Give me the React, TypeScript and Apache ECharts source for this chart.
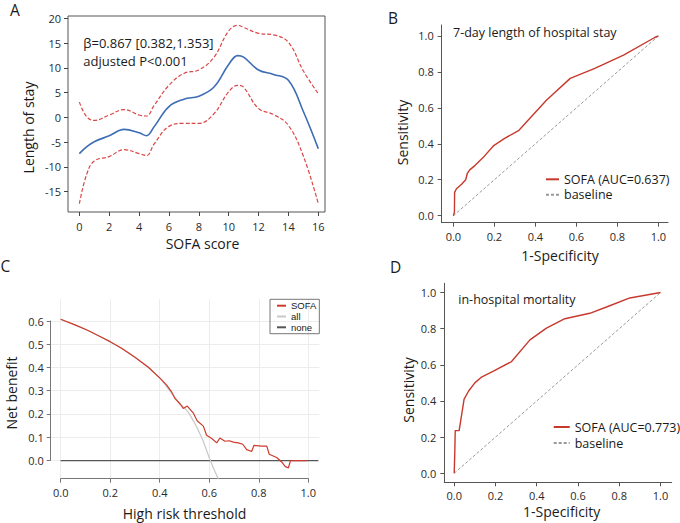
import React, { useEffect, useRef } from "react";
import * as echarts from "echarts";

const FONT = "'Open Sans', 'Noto Sans', sans-serif";
const SMALL_FONT = "'Liberation Sans', Arial, sans-serif";

// Panel A: restricted cubic spline of length of stay vs SOFA score
const sofaScore = [0, 0.5, 1, 2, 3, 4, 4.5, 5, 6, 7, 8, 9, 10, 10.6, 11, 12, 13, 14, 15, 16];
const losFit = [-7.3, -5.9, -4.9, -3.7, -2.4, -3.1, -3.7, -1.9, 2.2, 3.7, 4.3, 6.1, 10.7, 12.5, 12.2, 9.6, 8.7, 7.5, 1.2, -6.3];
const losUpper = [3.1, 0.1, -0.6, 0.5, 1.6, 0.5, 0.3, 2.4, 6.5, 8.9, 9.6, 12.1, 17.5, 18.6, 18.2, 17.0, 16.7, 15.2, 9.4, 4.8];
const losLower = [-17.4, -11.4, -8.8, -7.9, -6.5, -7.3, -7.7, -5.4, -1.8, -1.2, -1.2, 0.7, 5.2, 6.5, 6.1, 1.8, 0.6, -1.6, -7.8, -17.4];
const aXTicks = [0, 2, 4, 6, 8, 10, 12, 14, 16];
const aYTicks = [-15, -10, -5, 0, 5, 10, 15, 20];

// Panel B: ROC, 7-day length of hospital stay
const stayFpr = [0, 0.005, 0.006, 0.015, 0.04, 0.06, 0.068, 0.08, 0.106, 0.15, 0.195, 0.25, 0.32, 0.38, 0.455, 0.57, 0.69, 0.83, 0.98, 1];
const stayTpr = [0, 0.02, 0.13, 0.15, 0.175, 0.2, 0.235, 0.255, 0.28, 0.33, 0.388, 0.43, 0.475, 0.55, 0.644, 0.764, 0.82, 0.893, 0.99, 1];

// Panel D: ROC, in-hospital mortality
const mortFpr = [0, 0.003, 0.005, 0.024, 0.03, 0.048, 0.07, 0.1, 0.13, 0.19, 0.278, 0.367, 0.447, 0.536, 0.657, 0.738, 0.851, 1];
const mortTpr = [0, 0.12, 0.236, 0.236, 0.28, 0.41, 0.455, 0.5, 0.53, 0.565, 0.618, 0.738, 0.803, 0.855, 0.885, 0.92, 0.97, 1];

const baselineX = [0, 1];
const baselineY = [0, 1];
const rocTicks = [0, 0.2, 0.4, 0.6, 0.8, 1.0];

// Panel C: decision curve
const dcaSofaX = [0, 0.058, 0.111, 0.165, 0.2, 0.246, 0.3, 0.354, 0.405, 0.428, 0.448, 0.462, 0.482, 0.495, 0.511, 0.535, 0.551, 0.576, 0.589, 0.61, 0.63, 0.643, 0.663, 0.681, 0.697, 0.717, 0.735, 0.751, 0.771, 0.78, 0.811, 0.832, 0.842, 0.872, 0.892, 0.906, 0.919, 0.928, 0.993];
const dcaSofaY = [0.607, 0.583, 0.559, 0.53, 0.511, 0.483, 0.444, 0.401, 0.35, 0.324, 0.295, 0.266, 0.243, 0.224, 0.234, 0.205, 0.171, 0.148, 0.109, 0.095, 0.076, 0.097, 0.083, 0.085, 0.079, 0.076, 0.07, 0.047, 0.039, 0.065, 0.062, 0.062, 0.027, 0.013, -0.006, -0.025, -0.032, 0, 0];
const dcaAllX = [0, 0.058, 0.111, 0.165, 0.2, 0.246, 0.3, 0.354, 0.405, 0.428, 0.448, 0.462, 0.482, 0.5, 0.515, 0.532, 0.55, 0.575, 0.6, 0.618, 0.636];
const dcaAllY = [0.607, 0.583, 0.559, 0.53, 0.511, 0.483, 0.444, 0.401, 0.35, 0.318, 0.29, 0.27, 0.245, 0.225, 0.208, 0.178, 0.143, 0.085, 0.012, -0.035, -0.078];
const dcaNoneX = [0, 1.04];
const dcaNoneY = [0, 0];
const dcaXTicks = [0, 0.2, 0.4, 0.6, 0.8, 1.0];
const dcaYTicks = [0, 0.1, 0.2, 0.3, 0.4, 0.5, 0.6];

const zip = (xs: number[], ys: number[]) => xs.map((x, i) => [x, ys[i]]);

const RED = "#c8392d";
const tickLabel = { color: "#2a2a2a", fontSize: 11, fontFamily: FONT };
const f1 = (v: number) => v.toFixed(1);

function txt(text: string, x: number, y: number, size: number, opts: any = {}) {
  return {
    type: "text",
    x,
    y,
    rotation: opts.rotation || 0,
    style: {
      text,
      fontSize: size,
      fontFamily: FONT,
      fill: "#1a1a1a",
      align: opts.align || "center",
      verticalAlign: "middle",
    },
  };
}

export default function App() {
  const ref = useRef<HTMLDivElement>(null);
  useEffect(() => {
    const chart = echarts.init(ref.current!, null, { renderer: "svg" });
    const option: any = {
      animation: false,
      grid: [
        { left: 68, top: 16, width: 257, height: 196, show: true, borderColor: "#555", borderWidth: 1, backgroundColor: "transparent", outerBoundsMode: "none" },
        { left: 441.7, top: 25, width: 226.3, height: 197.7, outerBoundsMode: "none" },
        { left: 50.7, top: 299.3, width: 268.6, height: 179.4, outerBoundsMode: "none" },
        { left: 60.7, top: 321, width: 247.6, height: 139.3, outerBoundsMode: "none" },
        { left: 444.3, top: 283.3, width: 227.4, height: 199, outerBoundsMode: "none" },
      ],
      xAxis: [
        {
          type: "value", gridIndex: 0, min: -0.76, max: 16.45,
          axisLine: { show: false, onZero: false },
          axisTick: { show: true, length: 4, customValues: aXTicks, lineStyle: { color: "#444" } },
          axisLabel: { ...tickLabel, customValues: aXTicks, margin: 9 },
          splitLine: { show: false },
        },
        {
          type: "value", gridIndex: 1, min: -0.057, max: 1.047,
          axisLine: { show: true, onZero: false, lineStyle: { color: "#555" } },
          axisTick: { show: true, length: 4, customValues: rocTicks, lineStyle: { color: "#555" } },
          axisLabel: { ...tickLabel, customValues: rocTicks, margin: 8, formatter: f1 },
          splitLine: { show: false },
        },
        {
          type: "value", gridIndex: 2, min: -0.04, max: 1.044,
          axisLine: { show: false, onZero: false },
          axisTick: { show: false, customValues: dcaXTicks },
          axisLabel: { show: false, customValues: dcaXTicks },
          splitLine: { show: true, lineStyle: { color: "#ececec", width: 1 } },
        },
        {
          type: "value", gridIndex: 3, min: 0, max: 1, interval: 0.2, offset: 18.4,
          axisLine: { show: true, onZero: false, lineStyle: { color: "#777" } },
          axisTick: { show: true, length: 4, lineStyle: { color: "#777" } },
          axisLabel: { ...tickLabel, margin: 8, formatter: f1 },
          splitLine: { show: false },
        },
        {
          type: "value", gridIndex: 4, min: -0.048, max: 1.054,
          axisLine: { show: true, onZero: false, lineStyle: { color: "#555" } },
          axisTick: { show: true, length: 4, customValues: rocTicks, lineStyle: { color: "#555" } },
          axisLabel: { ...tickLabel, customValues: rocTicks, margin: 8, formatter: f1 },
          splitLine: { show: false },
        },
      ],
      yAxis: [
        {
          type: "value", gridIndex: 0, min: -19.1, max: 20.5,
          axisLine: { show: false, onZero: false },
          axisTick: { show: true, length: 4, customValues: aYTicks, lineStyle: { color: "#444" } },
          axisLabel: { ...tickLabel, customValues: aYTicks, margin: 7 },
          splitLine: { show: false },
        },
        {
          type: "value", gridIndex: 1, min: -0.039, max: 1.061,
          axisLine: { show: true, onZero: false, lineStyle: { color: "#555" } },
          axisTick: { show: true, length: 4, customValues: rocTicks, lineStyle: { color: "#555" } },
          axisLabel: { ...tickLabel, customValues: rocTicks, margin: 8, formatter: f1 },
          splitLine: { show: false },
        },
        {
          type: "value", gridIndex: 2, min: -0.078, max: 0.693,
          axisLine: { show: false, onZero: false },
          axisTick: { show: false, customValues: dcaYTicks },
          axisLabel: { show: false, customValues: dcaYTicks },
          splitLine: { show: true, lineStyle: { color: "#ececec", width: 1 } },
        },
        {
          type: "value", gridIndex: 3, min: 0, max: 0.6, interval: 0.1, offset: 10,
          axisLine: { show: true, onZero: false, lineStyle: { color: "#777" } },
          axisTick: { show: true, length: 4, lineStyle: { color: "#777" } },
          axisLabel: { ...tickLabel, margin: 7, formatter: f1 },
          splitLine: { show: false },
        },
        {
          type: "value", gridIndex: 4, min: -0.05, max: 1.051,
          axisLine: { show: true, onZero: false, lineStyle: { color: "#555" } },
          axisTick: { show: true, length: 4, customValues: rocTicks, lineStyle: { color: "#555" } },
          axisLabel: { ...tickLabel, customValues: rocTicks, margin: 8, formatter: f1 },
          splitLine: { show: false },
        },
      ],
      legend: [
        {
          left: 545, top: 172.3, orient: "vertical", padding: 0, itemGap: 1.4,
          itemWidth: 13, itemHeight: 8, itemStyle: { opacity: 0 },
          data: ["SOFA (AUC=0.637)", "baseline"],
          textStyle: { fontSize: 12.5, fontFamily: FONT, color: "#1a1a1a", lineHeight: 14 },
        },
        {
          left: 270, top: 299.3, orient: "vertical", padding: [1, 3, 1, 6], itemGap: 0,
          itemWidth: 9, itemHeight: 6, borderColor: "#777", borderWidth: 1, itemStyle: { opacity: 0 },
          data: ["SOFA", "all", "none"],
          textStyle: { fontSize: 9.5, fontFamily: SMALL_FONT, color: "#1a1a1a", lineHeight: 10.8 },
        },
        {
          left: 552.7, top: 420, orient: "vertical", padding: 0, itemGap: 2,
          itemWidth: 16, itemHeight: 8, itemStyle: { opacity: 0 },
          data: ["SOFA (AUC=0.773)", "baseline"],
          textStyle: { fontSize: 12.5, fontFamily: FONT, color: "#1a1a1a", lineHeight: 14 },
        },
      ],
      series: [
        { type: "line", name: "upper", xAxisIndex: 0, yAxisIndex: 0, smooth: 0.4, symbol: "none", data: zip(sofaScore, losUpper), lineStyle: { color: "#d94848", width: 1.2, type: [4, 2] } },
        { type: "line", name: "lower", xAxisIndex: 0, yAxisIndex: 0, smooth: 0.4, symbol: "none", data: zip(sofaScore, losLower), lineStyle: { color: "#d94848", width: 1.2, type: [4, 2] } },
        { type: "line", name: "fit", xAxisIndex: 0, yAxisIndex: 0, smooth: 0.4, symbol: "none", data: zip(sofaScore, losFit), lineStyle: { color: "#3d6db5", width: 1.6 } },

        { type: "line", name: "baseline", xAxisIndex: 1, yAxisIndex: 1, symbol: "none", data: zip(baselineX, baselineY), color: "#999", lineStyle: { color: "#999", width: 1, type: [3, 2] } },
        { type: "line", name: "SOFA (AUC=0.637)", xAxisIndex: 1, yAxisIndex: 1, symbol: "none", data: zip(stayFpr, stayTpr), color: RED, lineStyle: { color: RED, width: 1.4 } },

        { type: "line", name: "none", xAxisIndex: 2, yAxisIndex: 2, symbol: "none", data: zip(dcaNoneX, dcaNoneY), color: "#555", lineStyle: { color: "#555", width: 1.2 } },
        { type: "line", name: "all", xAxisIndex: 2, yAxisIndex: 2, symbol: "none", data: zip(dcaAllX, dcaAllY), color: "#c8c8c8", lineStyle: { color: "#c8c8c8", width: 1.2 } },
        { type: "line", name: "SOFA", xAxisIndex: 2, yAxisIndex: 2, symbol: "none", data: zip(dcaSofaX, dcaSofaY), color: "#cc3b2c", lineStyle: { color: "#cc3b2c", width: 1.2 } },

        { type: "line", name: "baseline", xAxisIndex: 4, yAxisIndex: 4, symbol: "none", data: zip(baselineX, baselineY), color: "#999", lineStyle: { color: "#999", width: 1, type: [3, 2] } },
        { type: "line", name: "SOFA (AUC=0.773)", xAxisIndex: 4, yAxisIndex: 4, symbol: "none", data: zip(mortFpr, mortTpr), color: RED, lineStyle: { color: RED, width: 1.4 } },
      ],
      graphic: [
        txt("A", 10, 10, 15.5, { align: "left" }),
        txt("B", 388, 17.5, 15.5, { align: "left" }),
        txt("C", 0.5, 266, 15.5, { align: "left" }),
        txt("D", 390, 267, 15.5, { align: "left" }),
        txt("β=0.867 [0.382,1.353]", 83.3, 43.3, 13, { align: "left" }),
        txt("adjusted P<0.001", 83.3, 60.7, 13, { align: "left" }),
        txt("SOFA score", 202.5, 243, 14),
        txt("Length of stay", 28, 127.5, 14, { rotation: Math.PI / 2 }),
        txt("7-day length of hospital stay", 453, 32.5, 12.5, { align: "left" }),
        txt("1-Specificity", 560, 255, 14),
        txt("Sensitivity", 402.5, 132.5, 14, { rotation: Math.PI / 2 }),
        txt("Net benefit", 11, 393, 14, { rotation: Math.PI / 2 }),
        txt("High risk threshold", 184.5, 513, 14),
        txt("in-hospital mortality", 458.3, 299, 12.5, { align: "left" }),
        txt("1-Specificity", 561.7, 511.7, 14),
        txt("Sensitivity", 408.3, 390, 14, { rotation: Math.PI / 2 }),
      ],
    };
    chart.setOption(option);
    return () => chart.dispose();
  }, []);
  return <div ref={ref} style={{ width: 680, height: 523, position: "absolute", left: 0, top: 0, background: "#fff" }} />;
}
